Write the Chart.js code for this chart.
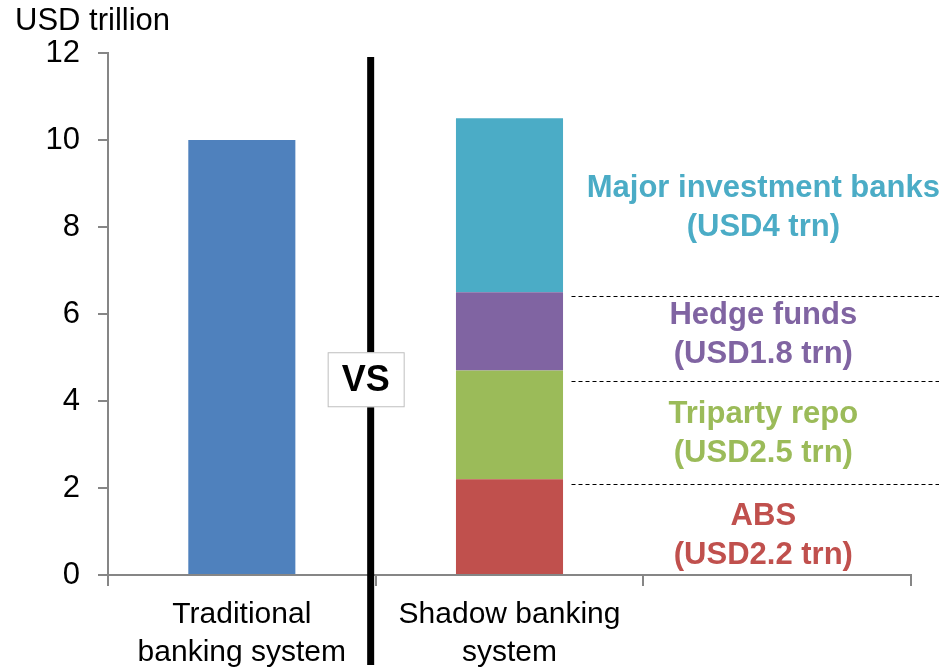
<!DOCTYPE html>
<html>
<head>
<meta charset="utf-8">
<script src="https://cdn.jsdelivr.net/npm/chart.js@4.4.1/dist/chart.umd.min.js"></script>
<style>
html,body{margin:0;padding:0;background:#fff;}
#wrap{width:947px;height:671px;position:relative;}
</style>
</head>
<body>
<div id="wrap"><canvas id="c" width="947" height="671"></canvas></div>
<script>
const categories = [["Traditional", "banking system"], ["Shadow banking", "system"], ""];
const traditional = [10, null, null];
const abs = [null, 2.2, null];
const triparty = [null, 2.5, null];
const hedgeFunds = [null, 1.8, null];
const investmentBanks = [null, 4.0, null];
const segmentLabels = [
  ["Major investment banks", "(USD4 trn)"],
  ["Hedge funds", "(USD1.8 trn)"],
  ["Triparty repo", "(USD2.5 trn)"],
  ["ABS", "(USD2.2 trn)"]
];
const yTicks = [0, 2, 4, 6, 8, 10, 12];

const colors = {
  trad: "#4F81BD", ib: "#4BACC6", hf: "#8064A2", tri: "#9BBB59", abs: "#C0504D"
};
const FONT = "'Liberation Sans', Arial, sans-serif";

const overlay = {
  id: "overlay",
  afterDraw(chart) {
    const ctx = chart.ctx;
    const y = chart.scales.y, x = chart.scales.x;
    ctx.save();
    // axis title
    ctx.fillStyle = "#000";
    ctx.font = "31px " + FONT;
    ctx.textAlign = "left";
    ctx.textBaseline = "middle";
    ctx.fillText("USD trillion", 15, 21);

    // shadow stack boundaries
    const b0 = 0;
    const b1 = b0 + abs[1];
    const b2 = b1 + triparty[1];
    const b3 = b2 + hedgeFunds[1];
    const b4 = b3 + investmentBanks[1];

    // dashed separators
    ctx.strokeStyle = "#000";
    ctx.lineWidth = 1;
    ctx.setLineDash([4, 3]);
    const xs = x.getPixelForValue(1) + 62;
    const xe = chart.width - 8;
    [[b3, 4], [b2, 10], [b1, 5]].forEach(([v, off]) => {
      const py = Math.round(y.getPixelForValue(v) + off) + 0.5;
      ctx.beginPath(); ctx.moveTo(xs, py); ctx.lineTo(xe, py); ctx.stroke();
    });
    ctx.setLineDash([]);

    // segment labels
    const cx = (x.getPixelForValue(1) + x.getPixelForValue(2)) / 2 + 120;
    const segs = [
      [b3, b4, colors.ib, 2],
      [b2, b3, colors.hf, 3],
      [b1, b2, colors.tri, 9],
      [b0, b1, colors.abs, 8]
    ];
    ctx.font = "bold 31px " + FONT;
    ctx.textAlign = "center";
    ctx.textBaseline = "middle";
    segs.forEach(([lo, hi, col, off], i) => {
      const my = (y.getPixelForValue(lo) + y.getPixelForValue(hi)) / 2 + off;
      ctx.fillStyle = col;
      ctx.fillText(segmentLabels[i][0], cx, my - 19);
      ctx.fillText(segmentLabels[i][1], cx, my + 20);
    });

    // vertical black divider
    const dx = (x.getPixelForValue(0) + x.getPixelForValue(1)) / 2 - 5;
    ctx.fillStyle = "#000";
    ctx.fillRect(dx - 3.5, y.getPixelForValue(12) + 4, 7, chart.height - 6 - (y.getPixelForValue(12) + 4));

    // VS box
    const vy = y.getPixelForValue(4.5);
    ctx.fillStyle = "#fff";
    ctx.fillRect(dx - 43, vy - 27, 77, 55);
    ctx.strokeStyle = "#BFBFBF";
    ctx.lineWidth = 1;
    ctx.strokeRect(dx - 42.5, vy - 26.5, 76, 54);
    ctx.fillStyle = "#000";
    ctx.font = "bold 36px " + FONT;
    ctx.fillText("VS", dx - 5, vy + 2);
    ctx.restore();
  }
};

new Chart(document.getElementById("c"), {
  type: "bar",
  data: {
    labels: categories,
    datasets: [
      { label: "Traditional", data: traditional, backgroundColor: colors.trad },
      { label: "ABS", data: abs, backgroundColor: colors.abs },
      { label: "Triparty repo", data: triparty, backgroundColor: colors.tri },
      { label: "Hedge funds", data: hedgeFunds, backgroundColor: colors.hf },
      { label: "Major investment banks", data: investmentBanks, backgroundColor: colors.ib }
    ]
  },
  options: {
    responsive: false,
    animation: false,
    devicePixelRatio: 1,
    categoryPercentage: 0.4,
    barPercentage: 1,
    layout: { padding: { top: 53, right: 36, left: 0, bottom: 0 } },
    plugins: { legend: { display: false }, tooltip: { enabled: false }, title: { display: false } },
    scales: {
      x: {
        stacked: true,
        grid: { offset: true, drawOnChartArea: false, drawTicks: true, tickLength: 11, color: "#868686", lineWidth: 2 },
        border: { color: "#868686", width: 2 },
        ticks: { color: "#000", font: { family: FONT, size: 30, lineHeight: 1.27 }, padding: 10, maxRotation: 0, autoSkip: false },
        afterFit(s) { s.height = 96; }
      },
      y: {
        stacked: true,
        min: 0, max: 12,
        afterBuildTicks(s) { s.ticks = yTicks.map(v => ({ value: v })); },
        grid: { drawOnChartArea: false, drawTicks: true, tickLength: 10, color: "#868686", lineWidth: 2 },
        border: { color: "#868686", width: 2 },
        ticks: { color: "#000", font: { family: FONT, size: 31 }, padding: 18 },
        afterFit(s) { s.width = 108; }
      }
    }
  },
  plugins: [overlay]
});
</script>
</body>
</html>
